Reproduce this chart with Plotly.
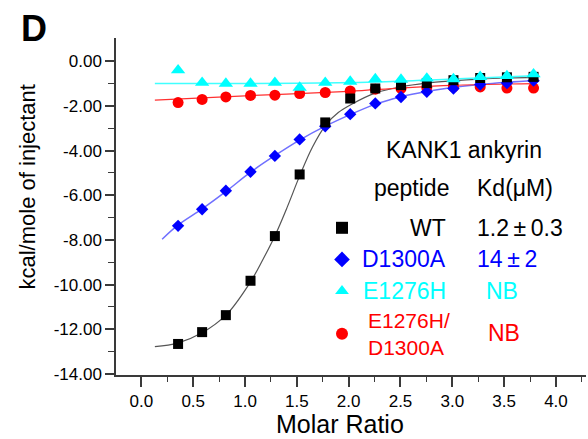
import plotly.graph_objects as go

# ---- data ----
molar_ratio = [0.354, 0.586, 0.815, 1.053, 1.288, 1.527, 1.774, 2.015, 2.257,
               2.505, 2.754, 3.011, 3.269, 3.527, 3.784]
wt_heat = [-12.66, -12.13, -11.37, -9.83, -7.83, -5.07, -2.74, -1.67, -1.22,
           -1.07, -0.98, -0.85, -0.75, -0.72, -0.70]
d1300a_heat = [-7.37, -6.63, -5.80, -4.95, -4.24, -3.50, -2.91, -2.37, -1.89,
               -1.60, -1.37, -1.22, -1.04, -0.98, -0.87]
e1276h_heat = [-0.40, -0.96, -1.00, -1.00, -0.96, -1.18, -0.96, -0.91, -0.80,
               -0.82, -0.77, -0.80, -0.70, -0.66, -0.58]
double_heat = [-1.85, -1.71, -1.60, -1.53, -1.52, -1.45, -1.40, -1.33, -1.25,
               -1.22, -1.18, -1.15, -1.15, -1.20, -1.20]

wt_fit_x = [0.13, 0.35, 0.59, 0.82, 1.05, 1.17, 1.29, 1.41, 1.53, 1.65, 1.78,
            1.90, 2.02, 2.26, 2.50, 2.75, 3.00, 3.27, 3.53, 3.80]
wt_fit_y = [-12.78, -12.62, -12.15, -11.35, -9.90, -8.90, -7.80, -6.50, -5.10,
            -3.85, -2.85, -2.30, -1.95, -1.42, -1.15, -0.98, -0.88, -0.80,
            -0.75, -0.72]
d1300a_fit_x = [0.20, 0.35, 0.59, 0.82, 1.05, 1.29, 1.53, 1.77, 2.02, 2.26,
                2.50, 2.75, 3.00, 3.27, 3.53, 3.80]
d1300a_fit_y = [-7.97, -7.35, -6.60, -5.82, -4.98, -4.22, -3.52, -2.92, -2.38,
                -1.92, -1.60, -1.36, -1.18, -1.04, -0.94, -0.86]
e1276h_fit_x = [0.13, 1.50, 2.26, 3.00, 3.80]
e1276h_fit_y = [-1.00, -0.99, -0.93, -0.80, -0.65]
double_fit_x = [0.13, 1.00, 2.00, 2.50, 3.00, 3.80]
double_fit_y = [-1.74, -1.55, -1.35, -1.20, -1.08, -1.00]

x_tick_vals = [0.0, 0.5, 1.0, 1.5, 2.0, 2.5, 3.0, 3.5, 4.0]
x_tick_text = ["0.0", "0.5", "1.0", "1.5", "2.0", "2.5", "3.0", "3.5", "4.0"]
x_minor_vals = [0.25, 0.75, 1.25, 1.75, 2.25, 2.75, 3.25, 3.75, 4.25]
y_tick_vals = [0, -2, -4, -6, -8, -10, -12, -14]
y_tick_text = ["0.00", "-2.00", "-4.00", "-6.00", "-8.00", "-10.00", "-12.00", "-14.00"]
y_minor_vals = [-1, -3, -5, -7, -9, -11, -13]

FONT = "Liberation Sans, Arial, sans-serif"
AX = "#3a3a3a"

fig = go.Figure()

# fit curves
fig.add_trace(go.Scatter(x=wt_fit_x, y=wt_fit_y, mode="lines", line_shape="spline",
                         line=dict(color="#555555", width=1.2), showlegend=False))
fig.add_trace(go.Scatter(x=d1300a_fit_x, y=d1300a_fit_y, mode="lines", line_shape="spline",
                         line=dict(color="#7070ff", width=1.5), showlegend=False))
fig.add_trace(go.Scatter(x=e1276h_fit_x, y=e1276h_fit_y, mode="lines", line_shape="spline",
                         line=dict(color="#40ffff", width=1.5), showlegend=False))
fig.add_trace(go.Scatter(x=double_fit_x, y=double_fit_y, mode="lines", line_shape="spline",
                         line=dict(color="#ff3030", width=1.2), showlegend=False))

# data points
fig.add_trace(go.Scatter(x=molar_ratio, y=double_heat, mode="markers", name=" ",
                         marker=dict(symbol="circle", size=11, color="#ff0000"),
                         legend="legend2"))
fig.add_trace(go.Scatter(x=molar_ratio, y=d1300a_heat, mode="markers", name=" ",
                         marker=dict(symbol="diamond", size=9.5, color="#0000ff"),
                         legend="legend", legendrank=2, legendgroup="b"))
fig.add_trace(go.Scatter(x=molar_ratio, y=wt_heat, mode="markers", name=" ",
                         marker=dict(symbol="square", size=10, color="#000000"),
                         legend="legend", legendrank=1, legendgroup="a"))
fig.add_trace(go.Scatter(x=molar_ratio, y=e1276h_heat, mode="markers", name=" ",
                         marker=dict(symbol="triangle-up", size=12.5, color="#00ffff"),
                         legend="legend", legendrank=3, legendgroup="c"))

L, R, T, B = 116, 2, 38, 64
W, H = 588, 439
pw, ph = W - L - R, H - T - B


def px(xp):
    return (xp - L) / pw


def py(yp):
    return (H - B - yp) / ph


annotations = []


def txt(text, x, y, size, color="#000000", xanchor="left", yanchor="middle",
        bold=False, angle=0, align="left"):
    annotations.append(dict(text=("<b>%s</b>" % text) if bold else text, x=px(x), y=py(y),
                            xref="paper", yref="paper", showarrow=False,
                            xanchor=xanchor, yanchor=yanchor, textangle=angle,
                            align=align,
                            font=dict(family=FONT, size=size, color=color)))


txt("D", 34, 28, 36, bold=True, xanchor="center")
txt("Molar Ratio", 340, 424, 25, xanchor="center")
txt("kcal/mole of injectant", 27.5, 187, 22, xanchor="center", angle=-90)
txt("KANK1 ankyrin", 464, 150, 23, xanchor="center")
txt("peptide", 451, 188, 23, xanchor="right")
txt("Kd(μM)", 475, 188, 23)
txt("WT", 448, 228, 23, xanchor="right")
txt("1.2\u2009±\u20090.3", 475, 228, 23)
txt("D1300A", 448, 259, 23, color="#0000ff", xanchor="right")
txt("14\u2009±\u20092", 475, 259, 23, color="#0000ff")
txt("E1276H", 448, 291, 23, color="#00ffff", xanchor="right")
txt("NB", 484, 291, 23, color="#00ffff")
txt("E1276H/<br>D1300A", 452, 334, 21, color="#ff0000", xanchor="right", align="left")
txt("NB", 486, 333, 23, color="#ff0000")

xr = [-0.245, 4.29]
yr = [-14.05, 1.04]

fig.update_layout(
    width=W, height=H,
    margin=dict(l=L, r=R, t=T, b=B),
    paper_bgcolor="white", plot_bgcolor="white",
    font=dict(family=FONT, size=17, color="#000000"),
    annotations=annotations,
    legend=dict(x=px(322), y=py(207), xanchor="left", yanchor="top",
                bgcolor="rgba(0,0,0,0)", itemsizing="constant",
                traceorder="grouped", tracegroupgap=0,
                font=dict(family=FONT, size=22)),
    legend2=dict(x=px(322), y=py(313), xanchor="left", yanchor="top",
                 bgcolor="rgba(0,0,0,0)", itemsizing="constant",
                 font=dict(family=FONT, size=22)),
    xaxis=dict(range=xr, showgrid=False, zeroline=False, showline=True,
               linecolor=AX, linewidth=1.5, ticks="outside", ticklen=10,
               tickwidth=1.5, tickcolor=AX, tickmode="array",
               tickvals=x_tick_vals, ticktext=x_tick_text,
               tickfont=dict(family=FONT, size=17),
               minor=dict(tickmode="array", tickvals=x_minor_vals, ticks="outside",
                          ticklen=5, tickwidth=1.2, tickcolor=AX)),
    xaxis2=dict(range=xr, overlaying="x", side="top", anchor="y", showgrid=False,
                zeroline=False, showline=True, linecolor=AX, linewidth=1.5,
                ticks="inside", ticklen=10, tickwidth=1.5, tickcolor=AX,
                tickmode="array", tickvals=x_tick_vals, showticklabels=False,
                minor=dict(tickmode="array", tickvals=x_minor_vals, ticks="inside",
                           ticklen=6, tickwidth=1.2, tickcolor=AX)),
    yaxis=dict(range=yr, showgrid=False, zeroline=False, showline=True,
               linecolor=AX, linewidth=1.5, ticks="outside", ticklen=9,
               tickwidth=1.5, tickcolor=AX, tickmode="array",
               tickvals=y_tick_vals, ticktext=y_tick_text,
               tickfont=dict(family=FONT, size=17),
               minor=dict(tickmode="array", tickvals=y_minor_vals, ticks="outside",
                          ticklen=6, tickwidth=1.2, tickcolor=AX)),
    yaxis2=dict(range=yr, overlaying="y", side="right", anchor="x", showgrid=False,
                zeroline=False, showline=True, linecolor=AX, linewidth=1.5,
                ticks="inside", ticklen=11, tickwidth=1.5, tickcolor=AX,
                tickmode="array", tickvals=y_tick_vals, showticklabels=False,
                minor=dict(tickmode="array", tickvals=y_minor_vals, ticks="inside",
                           ticklen=7, tickwidth=1.2, tickcolor=AX)),
)

fig.write_html("out.html")
